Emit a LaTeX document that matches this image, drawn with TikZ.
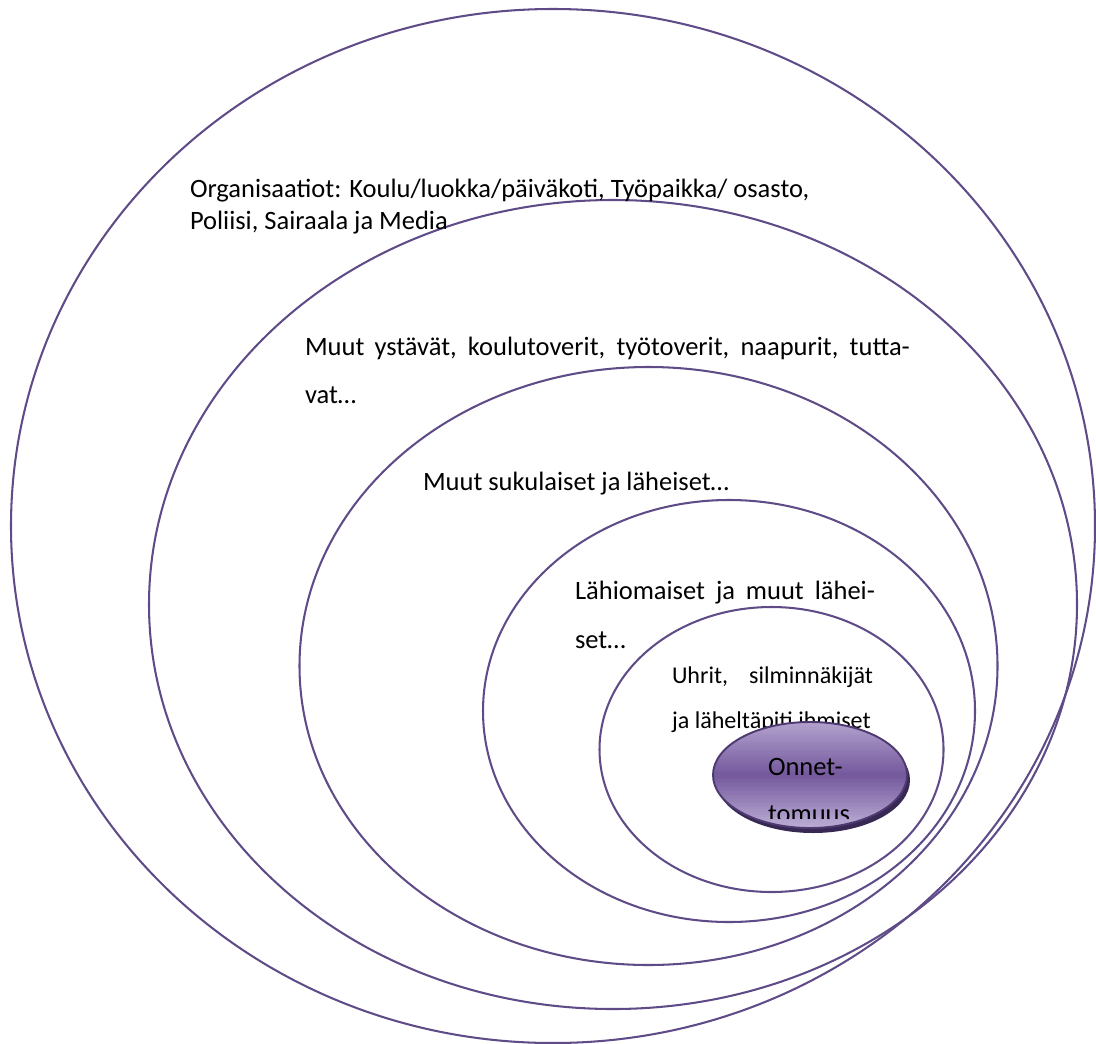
\documentclass[tikz,border=0pt]{standalone}
\usepackage{fontspec}
\setmainfont{Carlito}
\definecolor{ringc}{RGB}{94,75,135}
\definecolor{blobtop}{RGB}{178,162,206}
\definecolor{blobmid}{RGB}{116,88,156}
\definecolor{blobbot}{RGB}{188,174,214}
\definecolor{blobedge}{RGB}{78,58,112}
\definecolor{blobshadow}{RGB}{56,40,84}
\begin{document}
\begin{tikzpicture}[x=0.415pt,y=-0.415pt,
  ring/.style={draw=ringc, line width=0.85pt},
  lbl/.style={anchor=base west, inner sep=0pt, outer sep=0pt, font=\fontsize{11}{13}\selectfont},
  lbls/.style={anchor=base west, inner sep=0pt, outer sep=0pt, font=\fontsize{10}{12}\selectfont}]
\useasboundingbox (0,0) rectangle (1096,1043);
% nested rings
\draw[ring] (553,526) ellipse [x radius=542, y radius=517];
\draw[ring] (613,604.5) ellipse [x radius=464, y radius=404.5];
\draw[ring] (648.5,666) ellipse [x radius=349, y radius=299];
\draw[ring] (729,711) ellipse [x radius=246, y radius=211];
\draw[ring] (771.5,749.5) ellipse [x radius=172, y radius=142.5];
% labels
\node[lbl] (org1) at (190,197) {Organisaatiot: Koulu/luokka/päiväkoti, Työpaikka/ osasto,};
\node[lbl] (org2) at (190,229) {Poliisi, Sairaala ja Media};
\node[lbl] (fr1) at (305,355) {\makebox[251pt][s]{Muut ystävät, koulutoverit, työtoverit, naapurit, tutta-}};
\node[lbl] (fr2) at (305,403) {vat…};
\node[lbl] (rel) at (423,490) {Muut sukulaiset ja läheiset…};
\node[lbl] (kin1) at (575,599) {\makebox[124.5pt][s]{Lähiomaiset ja muut lähei-}};
\node[lbl] (kin2) at (575,648) {set…};
\node[lbls] (vic1) at (672,683) {\makebox[83.4pt][s]{Uhrit, silminnäkijät}};
\node[lbls] (vic2) at (672,728) {ja läheltäpiti ihmiset};
% centre blob
\fill[blobshadow] (813,780) ellipse [x radius=97, y radius=53];
\begin{scope}
\clip (810,775) ellipse [x radius=97, y radius=53];
\foreach \i [evaluate=\i as \p using {int(5*\i+2)}] in {0,...,19}
  \fill[blobmid!\p!blobtop] (700,{722+\i*2.65}) rectangle (920,{722+(\i+1)*2.65+0.6});
\foreach \i [evaluate=\i as \p using {int(98-5*\i)}] in {0,...,19}
  \fill[blobmid!\p!blobbot] (700,{775+\i*2.65}) rectangle (920,{775+(\i+1)*2.65+0.6});
\end{scope}
\draw[blobedge, line width=0.8pt] (810,775) ellipse [x radius=97, y radius=53];
\node[lbl] (acc1) at (768,775) {Onnet-};
\begin{scope}
\clip (700,700) rectangle (920,818);
\node[lbl] (acc2) at (768,822) {tomuus};
\end{scope}
\end{tikzpicture}
\end{document}
